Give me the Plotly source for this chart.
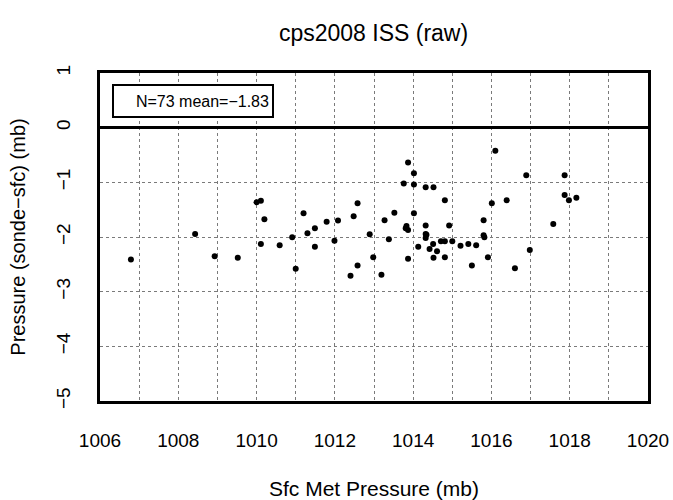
import plotly.graph_objects as go

sfc_pressure = [
    1006.79, 1008.43, 1008.93, 1009.52, 1010.00, 1010.11, 1010.20, 1010.11,
    1010.59, 1011.00, 1010.91, 1011.20, 1011.30, 1011.49, 1011.49, 1011.79,
    1011.99, 1012.08, 1012.48, 1012.58, 1012.40, 1012.58, 1012.89, 1012.98,
    1013.19, 1013.27, 1013.38, 1013.52,
    1013.87, 1014.02, 1013.76, 1014.02, 1014.32, 1014.52, 1014.81, 1014.02,
    1013.83, 1013.87, 1013.81, 1014.32, 1014.32, 1014.32, 1014.13, 1013.87,
    1014.42, 1014.51, 1014.61, 1014.52, 1014.71, 1014.81, 1014.81, 1014.92,
    1015.00, 1015.21, 1015.41, 1015.61, 1015.50, 1015.80, 1015.80, 1015.82,
    1015.91, 1016.01, 1016.10, 1016.39, 1016.60, 1014.34,
    1016.89, 1017.87, 1017.87, 1017.98, 1018.17, 1017.58, 1016.98,
]
pressure_diff = [
    -2.41, -1.945, -2.35, -2.38, -1.366, -1.336, -1.676, -2.128,
    -2.15, -2.58, -2.005, -1.567, -1.93, -1.84, -2.18, -1.72,
    -2.07, -1.70, -1.62, -1.384, -2.71, -2.52, -1.95, -2.37,
    -2.69, -1.695, -2.04, -1.555,
    -0.635, -0.835, -1.02, -1.04, -1.09, -1.09, -1.33, -1.567,
    -1.80, -1.87, -1.84, -1.79, -1.945, -2.02, -2.18, -2.40,
    -2.22, -2.13, -2.26, -2.38, -2.08, -2.08, -2.37, -1.79,
    -2.08, -2.16, -2.13, -2.15, -2.52, -1.695, -1.97, -2.005,
    -2.37, -1.384, -0.42, -1.33, -2.57, -1.96,
    -0.87, -0.87, -1.23, -1.33, -1.28, -1.76, -2.24,
]
x_ticks = [1006, 1008, 1010, 1012, 1014, 1016, 1018, 1020]
y_ticks = [-5, -4, -3, -2, -1, 0, 1]
legend_text = "N=73 mean=\u22121.83"

FONT = "Liberation Sans, Arial, sans-serif"
GRID = "#7a7a7a"

fig = go.Figure()
fig.add_trace(go.Scatter(
    x=sfc_pressure, y=pressure_diff, mode="markers",
    marker=dict(color="black", size=6, line=dict(width=0)),
    showlegend=False, hoverinfo="x+y",
))

fig.update_layout(
    width=673, height=500,
    margin=dict(l=100, r=25, t=73, b=99, pad=0),
    paper_bgcolor="white", plot_bgcolor="white",
    font=dict(family=FONT, color="black", size=18),
    title=dict(text="cps2008 ISS (raw)", x=0.555, xanchor="center",
               y=0.935, yanchor="middle", font=dict(size=23, family=FONT)),
    xaxis=dict(
        range=[1006, 1020], tickvals=x_ticks, ticks="", automargin=False,
        showgrid=True, gridcolor=GRID, griddash="dot", gridwidth=1,
        minor=dict(dtick=1, showgrid=True, gridcolor=GRID, griddash="dot", gridwidth=1),
        showline=True, mirror=True, linecolor="black", linewidth=2.5,
        zeroline=False, tickfont=dict(size=19), ticklabelstandoff=20,
        title=dict(text="Sfc Met Pressure (mb)", font=dict(size=21), standoff=36),
    ),
    yaxis=dict(
        range=[-5, 1], tickvals=y_ticks, ticks="", tickangle=-90, automargin=False,
        showgrid=True, gridcolor=GRID, griddash="dot", gridwidth=1,
        showline=True, mirror=True, linecolor="black", linewidth=2.5,
        zeroline=True, zerolinecolor="black", zerolinewidth=2.5,
        tickfont=dict(size=19), ticklabelstandoff=20,
        title=dict(text="Pressure (sonde\u2212sfc) (mb)", font=dict(size=20), standoff=22),
    ),
)

fig.add_annotation(
    xref="paper", yref="paper", x=0.0214, y=0.966, xanchor="left", yanchor="top",
    text=legend_text, showarrow=False, align="right",
    width=152, height=24, borderpad=3,
    bordercolor="black", borderwidth=2, bgcolor="white",
    font=dict(size=16, family=FONT),
)

fig.write_html("out.html")
